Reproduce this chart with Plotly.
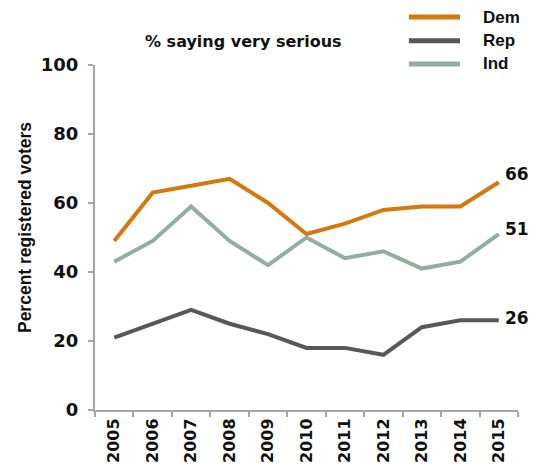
import plotly.graph_objects as go

years = ["2005", "2006", "2007", "2008", "2009", "2010", "2011", "2012", "2013", "2014", "2015"]
dem = [49, 63, 65, 67, 60, 51, 54, 58, 59, 59, 66]
rep = [21, 25, 29, 25, 22, 18, 18, 16, 24, 26, 26]
ind = [43, 49, 59, 49, 42, 50, 44, 46, 41, 43, 51]
y_ticks = [0, 20, 40, 60, 80, 100]

# name, values, colour, end-label vertical nudge (px), legend row y (paper)
series = [("Dem", dem, "#D5790E", 8, 1.139),
          ("Rep", rep, "#58585A", 2, 1.070),
          ("Ind", ind, "#93AE9F", 5, 1.003)]

SANS = "Liberation Sans"
WIDE = "DejaVu Sans"
last = len(years) - 1

fig = go.Figure()
for name, vals, color, nudge, ly in series:
    fig.add_trace(go.Scatter(x=years, y=vals, mode="lines", name=name,
                             line=dict(color=color, width=4), showlegend=False))
    fig.add_annotation(x=last, y=vals[-1], text=str(vals[-1]),
                       showarrow=False, xanchor="left", xshift=4, yshift=nudge,
                       font=dict(family=WIDE, size=17, color="#111", weight="bold"))
    # legend entry
    fig.add_shape(type="line", xref="paper", yref="paper",
                  x0=0.742, x1=0.863, y0=ly, y1=ly,
                  line=dict(color=color, width=5))
    fig.add_annotation(x=0.912, y=ly, xref="paper", yref="paper", text=name,
                       showarrow=False, xanchor="left", yanchor="middle",
                       font=dict(family=SANS, size=17, color="#111", weight="bold"))

fig.add_annotation(x=0.352, y=1.068, xref="paper", yref="paper",
                   text="% saying very serious", showarrow=False,
                   xanchor="center", yanchor="middle",
                   font=dict(family=WIDE, size=16, color="#111", weight="bold"))

fig.add_annotation(x=-0.165, y=0.528, xref="paper", yref="paper",
                   text="Percent registered voters", showarrow=False, textangle=-90,
                   xanchor="center", yanchor="middle",
                   font=dict(family=SANS, size=17.5, color="#111", weight="bold"))

fig.update_layout(
    width=528, height=466,
    margin=dict(l=87, r=18, t=57, b=64, autoexpand=False),
    plot_bgcolor="white", paper_bgcolor="white",
    font=dict(family=SANS, color="#111"),
    showlegend=False,
    xaxis=dict(type="category", range=[-0.5, last + 0.5], showline=True,
               linecolor="#A6A6A6", linewidth=2,
               ticks="outside", tickson="boundaries", ticklen=5, tickcolor="#A6A6A6",
               tickwidth=1.5, tickangle=-90, showgrid=False,
               tickfont=dict(family=WIDE, size=16, color="#111", weight="bold")),
    yaxis=dict(range=[0, 100], tickvals=y_ticks, showline=True, linecolor="#A6A6A6",
               linewidth=2, ticks="outside", ticklen=5, tickcolor="#A6A6A6",
               tickwidth=1.5, showgrid=False, zeroline=False, ticklabelstandoff=6,
               tickfont=dict(family=WIDE, size=18, color="#111", weight="bold")),
)

fig.write_html("out.html")
